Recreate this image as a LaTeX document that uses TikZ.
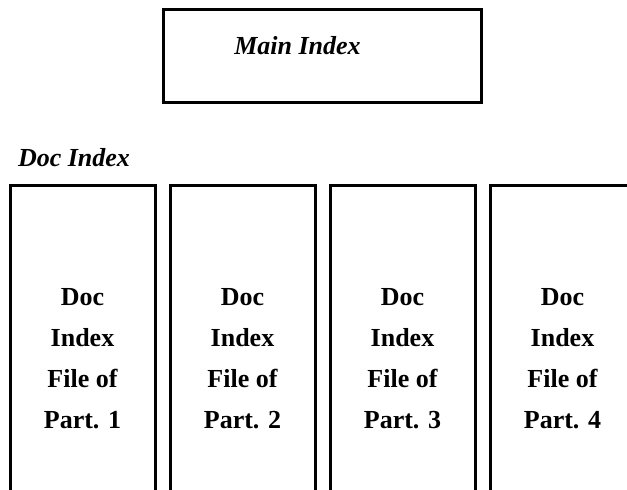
\documentclass[tikz,border=0pt]{standalone}
\usepackage{fontspec}
\setmainfont{Liberation Serif}
\usetikzlibrary{positioning}

\begin{document}
\begin{tikzpicture}
            [x=0.5pt, y=-0.5pt, node distance=6pt, line width=1.5pt,
            mainbox/.style={rectangle, draw=black, minimum width=159pt, minimum height=46.5pt},
            partbox/.style={rectangle, draw=black, align=center, minimum width=72.5pt,
                minimum height=173pt, font=\fontsize{13}{20.5}\selectfont\bfseries},
            heading/.style={font=\fontsize{13}{15}\selectfont\bfseries\itshape, inner sep=0pt}]

            \useasboundingbox (0,0) rectangle (627,490);
            \clip (0,0) rectangle (627,490);

            \node[mainbox] (main) at (322,56.5) {};
            \node[heading] (mainlbl) at (297.5,46) {Main Index};

            \node[heading] (doclbl) at (74,158) {Doc Index};

            \node[partbox] (part1) at (82.5,359) {Doc\\Index\\File of\\Part. 1};
            \node[partbox] (part2) [right = of part1] {Doc\\Index\\File of\\Part. 2};
            \node[partbox] (part3) [right = of part2] {Doc\\Index\\File of\\Part. 3};
            \node[partbox] (part4) [right = of part3] {Doc\\Index\\File of\\Part. 4};

        \end{tikzpicture}
\end{document}
